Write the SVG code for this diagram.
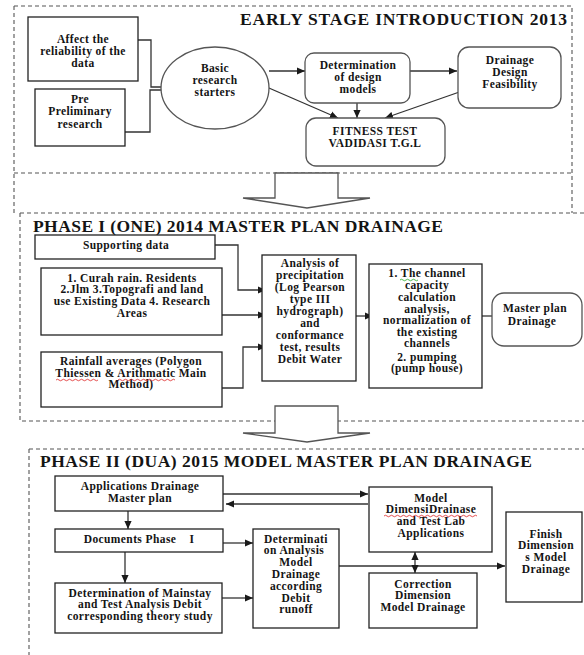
<svg xmlns="http://www.w3.org/2000/svg" width="584" height="655" viewBox="0 0 584 655">
<defs>
<marker id="ah" viewBox="0 0 10 10" refX="10" refY="5" markerWidth="8" markerHeight="8" orient="auto-start-reverse" markerUnits="userSpaceOnUse"><path d="M0,0.5 L10,5 L0,9.5 z" fill="#1a1a1a"/></marker>
<style>
.t{font-family:"Liberation Serif","Times New Roman",serif;font-weight:bold;font-size:11.5px;letter-spacing:0.4px;fill:#141414;text-anchor:middle}
.h{font-family:"Liberation Serif","Times New Roman",serif;font-weight:bold;font-size:17.5px;fill:#141414}
.b{fill:#fff;stroke:#222;stroke-width:1.3}
.r{fill:#fff;stroke:#555;stroke-width:1.3}
.d{fill:none;stroke:#555;stroke-width:1.1;stroke-dasharray:4 3}
.c{fill:none;stroke:#333;stroke-width:1.3}
.ca{fill:none;stroke:#333;stroke-width:1.3;marker-end:url(#ah)}
.blk{fill:#fff;stroke:#555;stroke-width:1.3}
.sq{fill:none;stroke-width:0.8}
</style>
</defs>

<g id="frames">
<path class="d" d="M14,6 H572 V213 M14,6 V215 M14,173 H572"/>
<path class="d" d="M20,213 H584 M20,213 V421 H584"/>
<path class="d" d="M29,449 H584 M29,449 V655"/>
</g>

<g id="block-arrows">
<polygon class="blk" points="275,173 338,173 338,198 370,198 307,208 243,198 275,198"/>
<polygon class="blk" points="275,406 338,406 338,433 370,433 307,442 243,433 275,433"/>
</g>

<g id="titles">
<text class="h" x="240" y="25" textLength="327">EARLY STAGE INTRODUCTION 2013</text>
<text class="h" x="33" y="232" textLength="410">PHASE I (ONE) 2014 MASTER PLAN DRAINAGE</text>
<text class="h" x="40" y="467" textLength="492">PHASE II (DUA) 2015 MODEL MASTER PLAN DRAINAGE</text>
</g>

<g id="connectors">
<polyline class="ca" points="119,40 151,40 151,87 182,87"/>
<polyline class="ca" points="125,132 150,132 150,90 182,90"/>
<line class="ca" x1="269" y1="71" x2="305" y2="71"/>
<line class="ca" x1="410" y1="71" x2="457" y2="71"/>
<line class="ca" x1="262" y1="85" x2="338" y2="118"/>
<line class="ca" x1="357" y1="103" x2="357" y2="118"/>
<line class="ca" x1="468" y1="89" x2="385" y2="118"/>
<polyline class="ca" points="207,245 238,245 238,290 266,290"/>
<line class="ca" x1="222" y1="315" x2="266" y2="315"/>
<polyline class="ca" points="216,388 243,388 243,347 266,347"/>
<line class="ca" x1="352" y1="316" x2="373" y2="316"/>
<line class="ca" x1="477" y1="316" x2="504" y2="316"/>
<line class="ca" x1="223" y1="494" x2="368" y2="494"/>
<line class="ca" x1="368" y1="504" x2="226" y2="504"/>
<line class="ca" x1="128" y1="511" x2="128" y2="529"/>
<line class="ca" x1="125" y1="552" x2="125" y2="583"/>
<line class="ca" x1="222" y1="543" x2="253" y2="543"/>
<line class="ca" x1="222" y1="598" x2="253" y2="598"/>
<line class="ca" x1="339" y1="566" x2="505" y2="566"/>
<line class="ca" x1="415" y1="552" x2="415" y2="573" marker-start="url(#ah)"/>
</g>

<g id="n-affect">
<rect class="b" x="28" y="17" width="110" height="64"/>
<text class="t" x="83" y="43">Affect the</text>
<text class="t" x="83" y="55">reliability of the</text>
<text class="t" x="83" y="67">data</text>
</g>
<g id="n-pre">
<rect class="b" x="35" y="89" width="90" height="57"/>
<text class="t" x="80" y="103">Pre</text>
<text class="t" x="80" y="115">Preliminary</text>
<text class="t" x="80" y="128">research</text>
</g>
<g id="n-basic">
<ellipse class="r" cx="215" cy="88" rx="54" ry="41" fill="none"/>
<text class="t" x="215" y="72">Basic</text>
<text class="t" x="215" y="84">research</text>
<text class="t" x="215" y="96">starters</text>
</g>
<g id="n-determination">
<rect class="r" x="305" y="53" width="105" height="50" rx="9"/>
<text class="t" x="358" y="69">Determination</text>
<text class="t" x="358" y="81">of design</text>
<text class="t" x="358" y="93">models</text>
</g>
<g id="n-feasibility">
<rect class="r" x="458" y="47" width="103" height="61" rx="11"/>
<text class="t" x="510" y="64">Drainage</text>
<text class="t" x="510" y="76">Design</text>
<text class="t" x="510" y="88">Feasibility</text>
</g>
<g id="n-fitness">
<rect class="r" x="306" y="118" width="139" height="48" rx="10"/>
<text class="t" x="375" y="135">FITNESS TEST</text>
<text class="t" x="375" y="147">VADIDASI T.G.L</text>
</g>

<g id="n-supporting">
<rect class="b" x="35" y="235" width="180" height="24"/>
<text class="t" x="126" y="249">Supporting data</text>
</g>
<g id="n-curah">
<rect class="b" x="41" y="268" width="181" height="67"/>
<text class="t" x="132" y="282">1. Curah rain. Residents</text>
<text class="t" x="132" y="293">2.Jlm 3.Topografi and land</text>
<text class="t" x="132" y="305">use Existing Data 4. Research</text>
<text class="t" x="132" y="317">Areas</text>
</g>
<g id="n-rainfall">
<rect class="b" x="41" y="352" width="181" height="55"/>
<text class="t" x="131" y="365">Rainfall averages (Polygon</text>
<text class="t" x="131" y="377">Thiessen &amp; Arithmatic Main</text>
<text class="t" x="131" y="388">Method)</text>
</g>
<g id="n-analysis">
<rect class="b" x="262" y="255" width="94" height="126"/>
<text class="t" x="310" y="267">Analysis of</text>
<text class="t" x="310" y="279">precipitation</text>
<text class="t" x="310" y="291">(Log Pearson</text>
<text class="t" x="310" y="303">type III</text>
<text class="t" x="310" y="315">hydrograph)</text>
<text class="t" x="310" y="327">and</text>
<text class="t" x="310" y="339">conformance</text>
<text class="t" x="310" y="351">test, results</text>
<text class="t" x="310" y="363">Debit Water</text>
</g>
<g id="n-channel">
<rect class="b" x="369" y="264" width="113" height="124"/>
<text class="t" x="427" y="277">1. The channel</text>
<text class="t" x="427" y="289">capacity</text>
<text class="t" x="427" y="301">calculation</text>
<text class="t" x="427" y="313">analysis,</text>
<text class="t" x="427" y="324">normalization of</text>
<text class="t" x="427" y="336">the existing</text>
<text class="t" x="427" y="347">channels</text>
<text class="t" x="427" y="361">2. pumping</text>
<text class="t" x="427" y="372">(pump house)</text>
</g>
<g id="n-masterplan">
<rect class="r" x="492" y="293" width="90" height="53" rx="12"/>
<text class="t" x="535" y="312">Master plan</text>
<text class="t" x="532" y="325">Drainage</text>
</g>

<g id="n-applications">
<rect class="b" x="55" y="476" width="168" height="35"/>
<text class="t" x="140" y="490">Applications Drainage</text>
<text class="t" x="140" y="502">Master plan</text>
</g>
<g id="n-documents">
<rect class="b" x="55" y="529" width="168" height="23"/>
<text class="t" x="130" y="543">Documents Phase</text>
<text class="t" x="192" y="543">I</text>
</g>
<g id="n-mainstay">
<rect class="b" x="55" y="583" width="167" height="50"/>
<text class="t" x="140" y="597">Determination of Mainstay</text>
<text class="t" x="140" y="608">and Test Analysis Debit</text>
<text class="t" x="140" y="620">corresponding theory study</text>
</g>
<g id="n-determinati">
<rect class="b" x="253" y="529" width="86" height="99"/>
<text class="t" x="296" y="543">Determinati</text>
<text class="t" x="294" y="554">on Analysis</text>
<text class="t" x="296" y="566">Model</text>
<text class="t" x="296" y="578">Drainage</text>
<text class="t" x="296" y="590">according</text>
<text class="t" x="296" y="602">Debit</text>
<text class="t" x="296" y="613">runoff</text>
</g>
<g id="n-modeldimensi">
<rect class="b" x="369" y="487" width="123" height="65"/>
<text class="t" x="431" y="502">Model</text>
<text class="t" x="431" y="513">DimensiDrainase</text>
<text class="t" x="431" y="525">and Test Lab</text>
<text class="t" x="431" y="537">Applications</text>
</g>
<g id="n-correction">
<rect class="b" x="369" y="573" width="108" height="55"/>
<text class="t" x="423" y="588">Correction</text>
<text class="t" x="423" y="599">Dimension</text>
<text class="t" x="423" y="611">Model Drainage</text>
</g>
<g id="n-finish">
<rect class="b" x="506" y="512" width="76" height="90"/>
<text class="t" x="546" y="538">Finish</text>
<text class="t" x="546" y="549">Dimension</text>
<text class="t" x="546" y="561">s Model</text>
<text class="t" x="546" y="573">Drainage</text>
</g>

<g id="spellcheck-marks">
<path class="sq" stroke="#d22" d="M56,380 q1.5,-1.5 3,0 t3,0 t3,0 t3,0 t3,0 t3,0 t3,0 t3,0 t3,0 t3,0 t3,0 t3,0 t3,0 t3,0"/>
<path class="sq" stroke="#d22" d="M118,380 q1.5,-1.5 3,0 t3,0 t3,0 t3,0 t3,0 t3,0 t3,0 t3,0 t3,0 t3,0 t3,0 t3,0 t3,0 t3,0 t3,0 t3,0 t3,0 t3,0 t3,0"/>
<path class="sq" stroke="#2a2" d="M400,280 q1.5,-1.5 3,0 t3,0 t3,0 t3,0 t3,0 t3,0"/>
<path class="sq" stroke="#d22" d="M384,516 q1.5,-1.5 3,0 t3,0 t3,0 t3,0 t3,0 t3,0 t3,0 t3,0 t3,0 t3,0 t3,0 t3,0 t3,0 t3,0 t3,0 t3,0 t3,0 t3,0 t3,0 t3,0 t3,0 t3,0 t3,0 t3,0 t3,0 t3,0 t3,0 t3,0 t3,0 t3,0 t3,0"/>
</g>
</svg>
